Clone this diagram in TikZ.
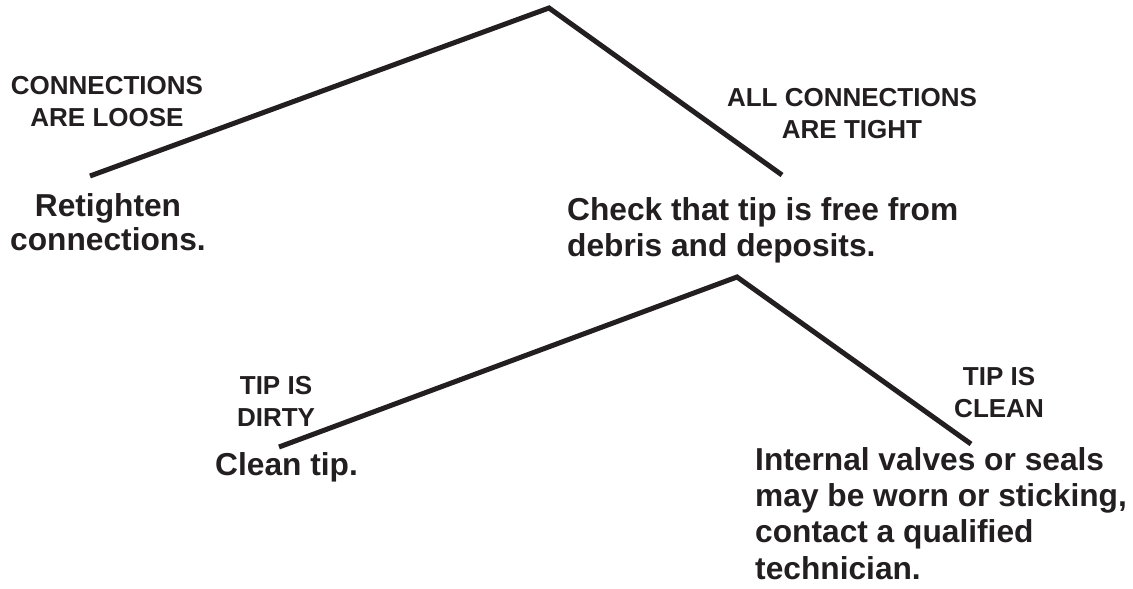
\documentclass[tikz,border=0pt]{standalone}
\usepackage{fontspec}
\setmainfont{Liberation Sans}
\definecolor{ink}{HTML}{231F20}
\begin{document}
\begin{tikzpicture}[x=1pt,y=-1pt,
  branch/.style={draw=ink,line width=5pt,line cap=butt,line join=miter},
  cond/.style={font=\bfseries\fontsize{26}{31.6}\selectfont,text=ink,align=center,inner sep=0pt,anchor=base},
  action/.style={font=\bfseries\fontsize{31.7}{36.2}\selectfont,text=ink,align=left,inner sep=0pt,anchor=base west},
  actionc/.style={font=\bfseries\fontsize{31.7}{34}\selectfont,text=ink,align=center,inner sep=0pt,anchor=base}]
\useasboundingbox[fill=white] (0,0) rectangle (1133,589);
% connectors
\coordinate (top) at (549,8);
\coordinate (loose) at (90,176);
\coordinate (tight) at (782,175);
\coordinate (mid) at (737,277);
\coordinate (dirty) at (279,447);
\coordinate (clean) at (971,444);
\draw[branch] (loose) -- (top) -- (tight);
\draw[branch] (dirty) -- (mid) -- (clean);
% condition labels (anchor = baseline of last line)
\node[cond] (lLoose) at (107,126.5) {CONNECTIONS\\ARE LOOSE};
\node[cond] (lTight) at (852,138.3) {ALL CONNECTIONS\\ARE TIGHT};
\node[cond] (lDirty) at (276,426) {TIP IS\\DIRTY};
\node[cond] (lClean) at (999,417.3) {TIP IS\\CLEAN};
% actions
\node[actionc] (aRetighten) at (108,250) {Retighten\\connections.};
\node[action] (aCheck) at (567,256.7) {Check that tip is free from\\debris and deposits.};
\node[action] (aClean) at (215,475) {Clean tip.};
\node[action] (aInternal) at (755,579) {Internal valves or seals\\may be worn or sticking,\\contact a qualified\\technician.};
\end{tikzpicture}
\end{document}
